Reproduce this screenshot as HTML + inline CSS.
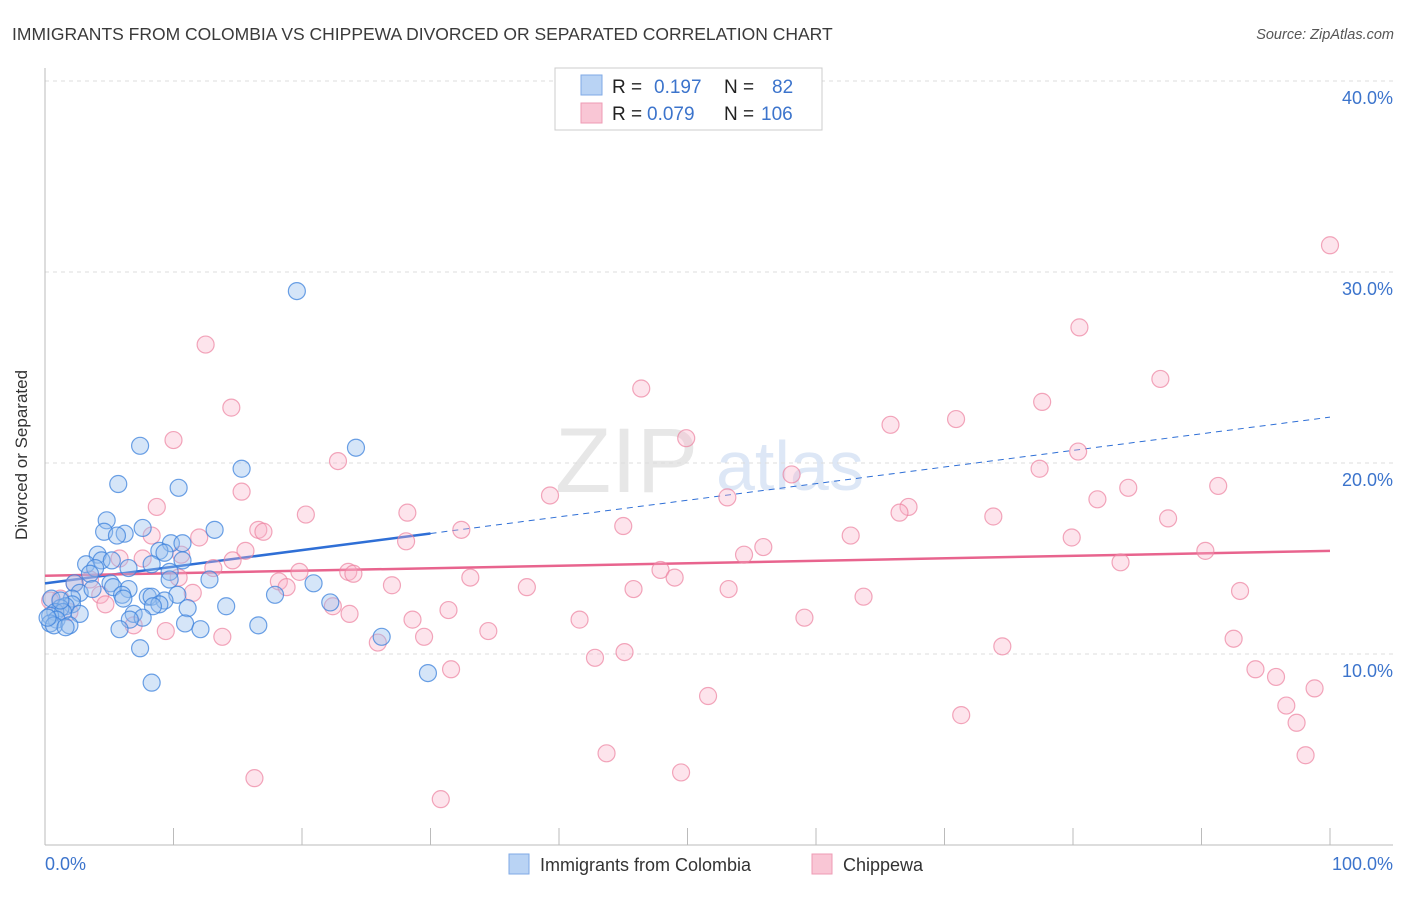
<!DOCTYPE html>
<html><head><meta charset="utf-8"><style>
body{margin:0;background:#fff;font-family:"Liberation Sans",sans-serif}
svg text{font-family:"Liberation Sans",sans-serif}
</style></head><body>
<svg id="chart" width="1406" height="892">
<text x="12" y="40" font-size="17.5" fill="#3a3a3a">IMMIGRANTS FROM COLOMBIA VS CHIPPEWA DIVORCED OR SEPARATED CORRELATION CHART</text>
<text x="1394" y="39" font-size="14.5" fill="#555" font-style="italic" text-anchor="end">Source: ZipAtlas.com</text>
<g opacity="0.35">
<text x="555" y="492" font-size="92" fill="#bbb" font-family="Liberation Serif, serif">ZIP</text>
<text x="716" y="490" font-size="70" fill="#9fbde8">atlas</text>
</g>
<g id="grid"></g>
<g id="axes"></g>
<g id="trends"></g>
<g id="pts"></g>
<text x="27" y="455" font-size="17" fill="#333" text-anchor="middle" transform="rotate(-90 27 455)">Divorced or Separated</text>
<g>
<rect x="555" y="68" width="267" height="62" fill="#fff" stroke="#ccc"/>
<rect x="581" y="75" width="21" height="20" fill="#b9d3f4" stroke="#7fa9e6"/>
<rect x="581" y="103" width="21" height="20" fill="#f9c6d5" stroke="#ee9bb4"/>
<text x="612" y="93" font-size="19" fill="#222">R =</text><text x="654" y="93" font-size="19" fill="#3c74cc">0.197</text>
<text x="724" y="93" font-size="19" fill="#222">N =</text><text x="772" y="93" font-size="19" fill="#3c74cc">82</text>
<text x="612" y="120" font-size="19" fill="#222">R =</text><text x="647" y="120" font-size="19" fill="#3c74cc">0.079</text>
<text x="724" y="120" font-size="19" fill="#222">N =</text><text x="761" y="120" font-size="19" fill="#3c74cc">106</text>
</g>
<g>
<rect x="509" y="854" width="20" height="20" fill="#b9d3f4" stroke="#7fa9e6"/>
<text x="540" y="871" font-size="18" fill="#333">Immigrants from Colombia</text>
<rect x="812" y="854" width="20" height="20" fill="#f9c6d5" stroke="#ee9bb4"/>
<text x="843" y="871" font-size="18" fill="#333">Chippewa</text>
</g>
</svg>
<script>
const blueX=[19.6,7.4,24.2,15.3,5.7,10.4,4.8,13.2,7.6,4.6,6.2,5.6,9.8,10.7,8.9,9.3,4.1,3.2,4.4,5.2,3.9,10.7,8.3,6.5,9.7,3.5,9.7,12.8,20.9,2.3,5.1,5.3,6.5,2.7,3.7,6.0,17.9,8.0,8.3,10.3,0.5,2.1,6.1,9.3,8.9,22.2,2.1,1.6,8.4,11.1,14.1,1.2,0.8,1.4,2.7,0.4,6.9,7.6,0.9,0.4,6.6,10.9,0.7,1.9,1.6,16.6,5.8,12.1,26.2,7.4,29.8,8.3,0.2,1.2];
const blueY=[29.0,20.9,20.8,19.7,18.9,18.7,17.0,16.5,16.6,16.4,16.3,16.2,15.8,15.8,15.4,15.3,15.2,14.7,14.9,14.9,14.5,14.9,14.7,14.5,14.3,14.2,13.9,13.9,13.7,13.7,13.7,13.5,13.4,13.2,13.4,13.1,13.1,13.0,13.0,13.1,12.9,12.9,12.9,12.8,12.6,12.7,12.6,12.5,12.5,12.4,12.5,12.4,12.2,12.2,12.1,12.0,12.1,11.9,11.8,11.6,11.8,11.6,11.5,11.5,11.4,11.5,11.3,11.3,10.9,10.3,9.0,8.5,11.9,12.8];
const pinkX=[100,12.5,80.5,46.4,86.8,14.5,77.6,65.8,70.9,10.0,49.9,22.8,80.4,77.4,58.1,15.3,39.3,53.1,84.3,81.9,91.3,8.7,28.2,20.3,67.2,66.5,73.8,87.4,45.0,32.4,16.6,17.0,8.3,28.1,62.7,79.9,12.0,10.6,15.6,55.9,54.4,90.3,14.6,7.6,83.7,5.8,19.8,23.6,24.0,47.9,49.0,33.1,13.1,10.4,18.2,18.8,27.0,37.5,45.8,53.2,93.0,63.7,2.3,3.5,11.5,4.3,1.2,22.4,4.7,31.4,23.7,41.6,59.1,28.6,34.5,9.4,6.9,13.8,29.5,25.9,92.5,74.5,45.1,42.8,31.6,94.2,95.8,98.8,51.6,96.6,71.3,97.4,43.7,98.1,49.5,16.3,30.8,0.4,1.9];
const pinkY=[31.4,26.2,27.1,23.9,24.4,22.9,23.2,22.0,22.3,21.2,21.3,20.1,20.6,19.7,19.4,18.5,18.3,18.2,18.7,18.1,18.8,17.7,17.4,17.3,17.7,17.4,17.2,17.1,16.7,16.5,16.5,16.4,16.2,15.9,16.2,16.1,16.1,15.2,15.4,15.6,15.2,15.4,14.9,15.0,14.8,15.0,14.3,14.3,14.2,14.4,14.0,14.0,14.5,14.0,13.8,13.5,13.6,13.5,13.4,13.4,13.3,13.0,13.7,13.9,13.2,13.1,12.9,12.5,12.6,12.3,12.1,11.8,11.9,11.8,11.2,11.2,11.5,10.9,10.9,10.6,10.8,10.4,10.1,9.8,9.2,9.2,8.8,8.2,7.8,7.3,6.8,6.4,4.8,4.7,3.8,3.5,2.4,12.8,12.2];
const yTicks=[10,20,30,40];
const yTickLabels=["10.0%","20.0%","30.0%","40.0%"];
const xTicks=[0,10,20,30,40,50,60,70,80,90,100];
const blueTrend=[13.7,22.4]; // y at x=0 and x=100
const blueSolidEnd=30;
const pinkTrend=[14.1,15.4];
const NS="http://www.w3.org/2000/svg";
const X=v=>45+v*12.85, Y=v=>845-v*19.1;
function mk(tag,attrs,parent){const e=document.createElementNS(NS,tag);for(const k in attrs)e.setAttribute(k,attrs[k]);parent.appendChild(e);return e;}
const grid=document.getElementById('grid'),axes=document.getElementById('axes'),tr=document.getElementById('trends'),pts=document.getElementById('pts');
yTicks.forEach((t,i)=>{
 const l=mk('line',{x1:45,x2:1393,y1:Y(t),y2:Y(t),stroke:'#ddd','stroke-dasharray':'4,4'},grid);
 
 
 const tx=mk('text',{x:1393,y:Y(t)+23,'font-size':18,fill:'#3c74cc','text-anchor':'end'},axes);
 tx.textContent=yTickLabels[i];
 
 
});
const tl=mk('line',{x1:45,x2:1393,y1:Y(40),y2:Y(40),stroke:'#ddd','stroke-dasharray':'4,4'},grid);
mk('line',{x1:45,x2:45,y1:68,y2:845,stroke:'#bbb'},axes);
mk('line',{x1:45,x2:1393,y1:845,y2:845,stroke:'#bbb'},axes);
xTicks.forEach(t=>{const l=mk('line',{x1:X(t),x2:X(t),y1:828,y2:845,stroke:'#bbb'},axes);
 
 });
const x0=mk('text',{x:45,y:870,'font-size':18,fill:'#3c74cc'},axes);x0.textContent='0.0%';


const x1=mk('text',{x:1393,y:870,'font-size':18,fill:'#3c74cc','text-anchor':'end'},axes);x1.textContent='100.0%';


function drawPts(xs,ys,fill,stroke,name){xs.forEach((x,i)=>{const c=mk('circle',{cx:X(x),cy:Y(ys[i]),r:8.5,fill:fill,stroke:stroke,'stroke-width':1.2},pts);
 
 });}
drawPts(pinkX,pinkY,'rgba(248,178,200,0.35)','rgba(236,130,160,0.7)','point-chippewa');
drawPts(blueX,blueY,'rgba(150,190,238,0.4)','rgba(60,130,220,0.75)','point-colombia');
const by=x=>blueTrend[0]+(blueTrend[1]-blueTrend[0])*x/100;
const b1=mk('line',{x1:X(0),y1:Y(by(0)),x2:X(blueSolidEnd),y2:Y(by(blueSolidEnd)),stroke:'#2f6fd6','stroke-width':2.5},tr);


const b2=mk('line',{x1:X(blueSolidEnd),y1:Y(by(blueSolidEnd)),x2:X(100),y2:Y(by(100)),stroke:'#2f6fd6','stroke-width':1,'stroke-dasharray':'6,5'},tr);


const p1=mk('line',{x1:X(0),y1:Y(pinkTrend[0]),x2:X(100),y2:Y(pinkTrend[1]),stroke:'#e8648e','stroke-width':2.5},tr);


</script>
</body></html>
